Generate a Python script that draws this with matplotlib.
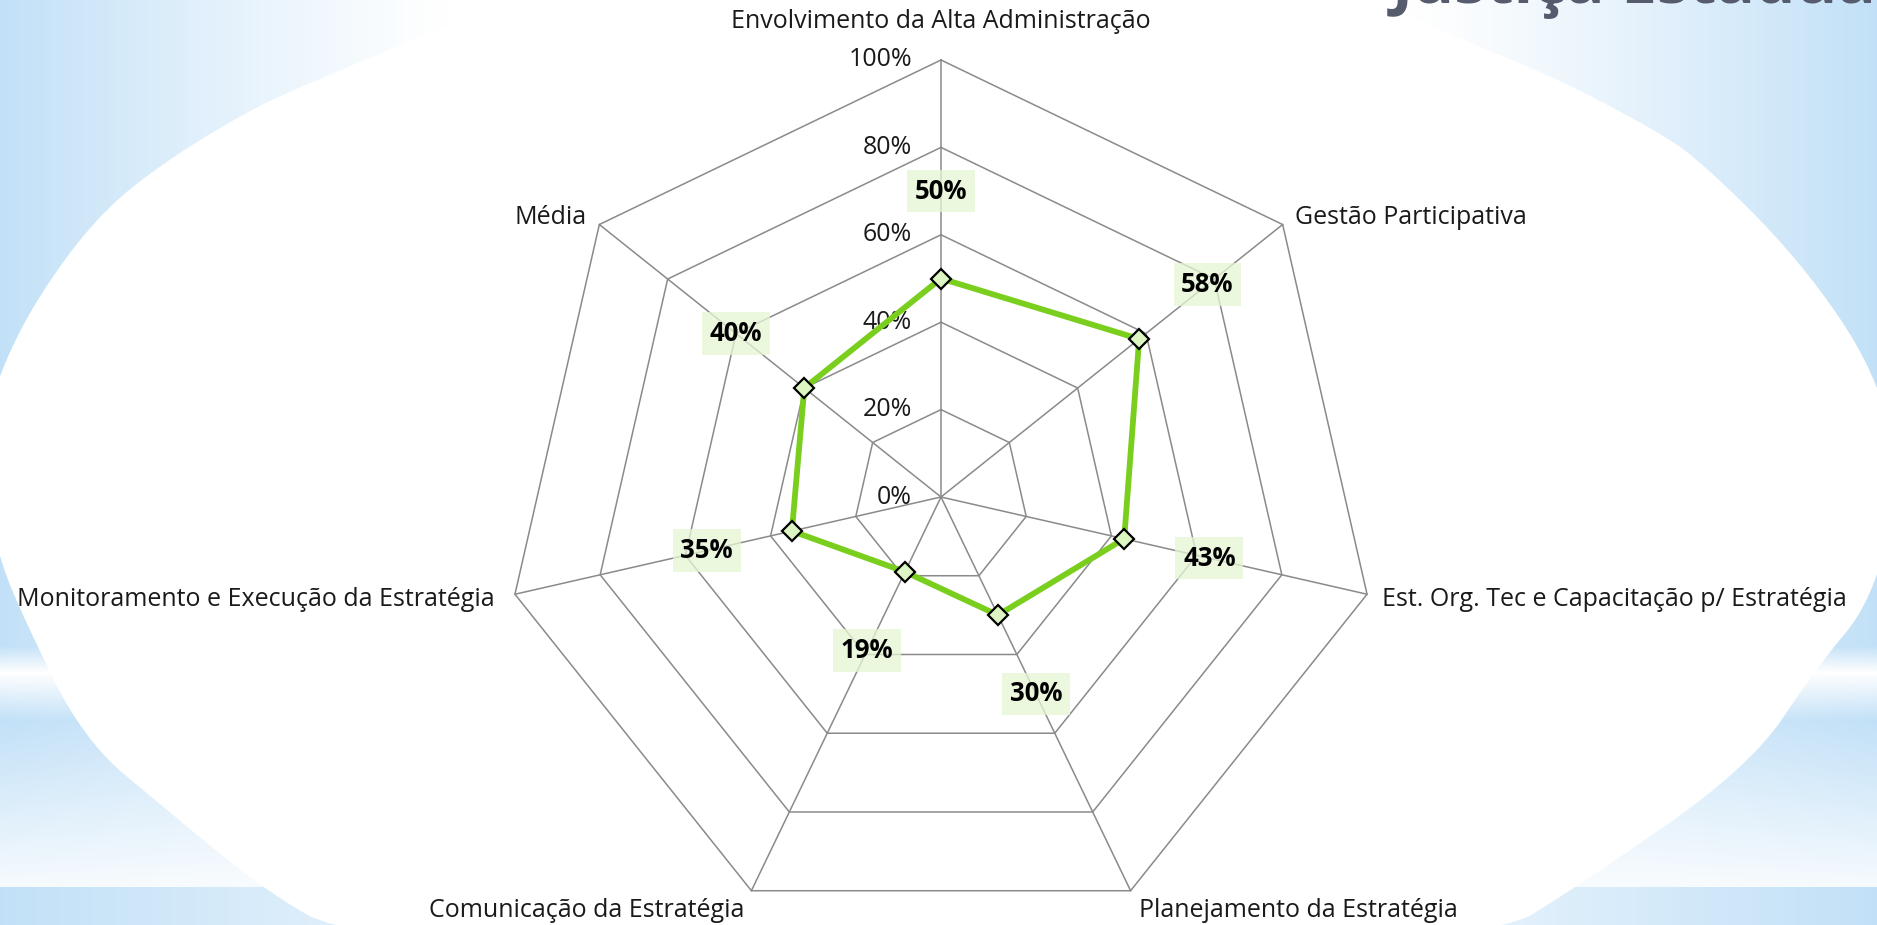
import numpy as np
import matplotlib
matplotlib.use("Agg")
import matplotlib.pyplot as plt
from matplotlib.patches import Polygon

# data
categories = [
    "Envolvimento da Alta Administração",
    "Gestão Participativa",
    "Est. Org. Tec e Capacitação p/ Estratégia",
    "Planejamento da Estratégia",
    "Comunicação da Estratégia",
    "Monitoramento e Execução da Estratégia",
    "Média",
]
values = [0.50, 0.58, 0.43, 0.30, 0.19, 0.35, 0.40]
ring_levels = [0.0, 0.2, 0.4, 0.6, 0.8, 1.0]
ring_labels = ["0%", "20%", "40%", "60%", "80%", "100%"]
title_text = "Justiça Estadual"

# label placement (offset pixels from outer vertex, alignment)
label_offsets = [(0, 38), (12, 7), (15, -5), (8, -20), (-7, -20), (-20, -5), (-13, 7)]
label_align = ["center", "left", "left", "left", "right", "right", "right"]

W, H = 1877, 925
FONT = "Open Sans"
FS = 18


def chaikin(pts, n_iter=3):
    # corner-cutting to round off the background blob
    pts = np.asarray(pts, float)
    for _ in range(n_iter):
        nxt = np.roll(pts, -1, axis=0)
        q = 0.75 * pts + 0.25 * nxt
        r = 0.25 * pts + 0.75 * nxt
        pts = np.empty((2 * len(q), 2))
        pts[0::2] = q
        pts[1::2] = r
    return pts


fig = plt.figure(figsize=(W / 100, H / 100), dpi=100)

# ---- background: blue gradient with white blob ----
bg = fig.add_axes([0, 0, 1, 1], zorder=0)
xs = np.arange(W)
ys = np.arange(H)
edge = np.minimum(xs / 450.0, (W - 1 - xs) / 470.0)
t_top = np.clip(1 - edge, 0, 1) ** 1.2
v_prof = np.interp(ys, [0, 645, 672, 720, 885], [1, 1, 0.0, 1, 0.15])
inten = np.tile(t_top, (H, 1))
mid = (ys >= 645) & (ys < 887)
inten[mid, :] = v_prof[mid, None] * np.clip(1 - np.minimum(xs, W - 1 - xs) / 900.0, 0.3, 1)[None, :]
bot_edge = np.minimum(xs, W - 1 - xs)
inten[ys >= 887, :] = (1 - 0.65 * np.clip(bot_edge / 450.0, 0, 1))[None, :]
blue = np.array([0.76, 0.88, 0.97])
img = 1 - inten[..., None] * (1 - blue)[None, None, :]
bg.imshow(img, extent=(0, W, H, 0), aspect="auto", interpolation="bilinear")

blob = [(700, -40), (480, 12), (420, 37), (300, 87), (250, 110), (167, 160), (100, 213),
        (40, 293), (0, 370), (-25, 460), (0, 560), (20, 610), (83, 740), (167, 810),
        (260, 887), (350, 940), (900, 980),
        (1490, 940), (1577, 887), (1750, 767), (1817, 667), (1873, 600), (1900, 480),
        (1877, 373), (1800, 260), (1700, 160), (1650, 127), (1550, 75), (1450, 35),
        (1300, -40)]
bg.add_patch(Polygon(chaikin(blob), closed=True, facecolor="white", edgecolor="none"))
# page title, mostly above the visible area as in the original slide
bg.text(1392, 3, title_text, fontsize=46, fontweight="bold", color="#565C6D",
        family=FONT, va="baseline", ha="left")
bg.set_xlim(0, W)
bg.set_ylim(H, 0)
bg.axis("off")

# ---- radar ----
cx, cy, R = 941, 497, 437
w, h = 2 * R / W, 2 * R / H
ax = fig.add_axes([cx / W - w / 2, (H - cy) / H - h / 2, w, h], projection="polar", zorder=1)
ax.patch.set_alpha(0)
ax.set_theta_offset(np.pi / 2)
ax.set_theta_direction(-1)
ax.set_ylim(0, 1)
ax.grid(False)
ax.set_xticks([])
ax.set_yticks([])
ax.spines["polar"].set_visible(False)

n = len(categories)
angles = np.linspace(0, 2 * np.pi, n, endpoint=False)
closed = np.append(angles, angles[0])

grid_col = "#8A8A8A"
for r in ring_levels[1:]:
    ax.plot(closed, [r] * (n + 1), color=grid_col, lw=1.1, clip_on=False, zorder=1)
for a in angles:
    ax.plot([a, a], [0, 1], color=grid_col, lw=1.1, clip_on=False, zorder=1)

for r, lab in zip(ring_levels, ring_labels):
    ax.annotate(lab, xy=(0, r), xytext=(-29, 0), textcoords="offset pixels",
                ha="right", va="center", fontsize=FS, family=FONT, color="#1a1a1a",
                annotation_clip=False, zorder=2)

vals = np.append(values, values[0])
ax.plot(closed, vals, color="#7ACF1E", lw=4.2, zorder=3, clip_on=False)
ax.plot(angles, values, linestyle="none", marker="D", ms=10, mfc="#DDF5C2",
        mec="black", mew=1.6, zorder=4, clip_on=False)

for a, v in zip(angles, values):
    ax.annotate(f"{round(v * 100)}%", xy=(a, v + 0.2), ha="center", va="center",
                fontsize=18.5, fontweight="bold", family=FONT, color="black",
                bbox=dict(boxstyle="square,pad=0.3", fc="#E6F6D4", ec="none", alpha=0.75),
                annotation_clip=False, zorder=5)

for a, lab, off, al in zip(angles, categories, label_offsets, label_align):
    ax.annotate(lab, xy=(a, 1.0), xytext=off, textcoords="offset pixels",
                ha=al, va="center", fontsize=FS, family=FONT, color="#1a1a1a",
                annotation_clip=False)

fig.savefig("out.png", dpi=100)
